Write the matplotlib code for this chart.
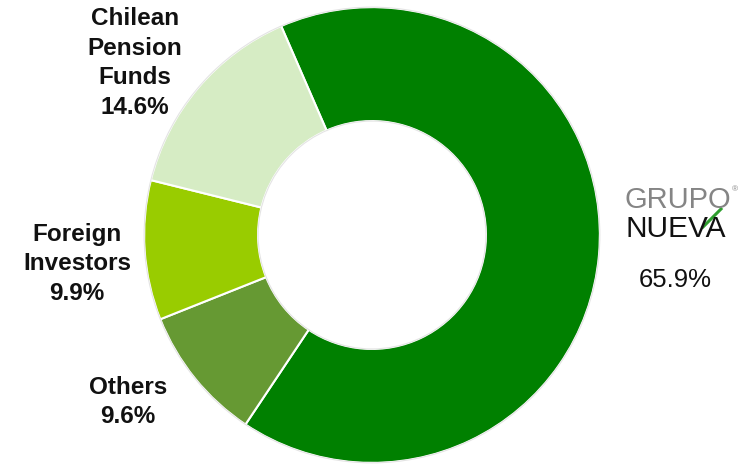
"""Shareholder structure donut chart (Grupo Nueva majority)."""

import matplotlib.pyplot as plt
from matplotlib.patches import Circle

plt.rcParams["font.family"] = ["Liberation Sans", "DejaVu Sans"]

# Clockwise from the top-left boundary
shareholders = ["Grupo Nueva", "Others", "Foreign Investors", "Chilean Pension Funds"]
shares = [65.9, 9.6, 9.9, 14.6]
label_text = ["", "Others\n9.6%", "Foreign\nInvestors\n9.9%", "Chilean\nPension\nFunds\n14.6%"]

COLORS = ["#008000", "#669933", "#99CC00", "#D6ECC4"]
W, H = 750, 467


def fx(px):
    return px / W


def fy(py):
    return 1 - py / H


fig = plt.figure(figsize=(7.5, 4.67), dpi=100)
fig.patch.set_facecolor("white")

# square axes centred on the donut (centre ~ (372, 235) px, radius ~229 px)
ax = fig.add_axes([fx(143), fy(464), 458 / W, 458 / H])
ax.pie(shares, colors=COLORS, startangle=113.5, counterclock=False,
       radius=1.0, wedgeprops=dict(width=0.5, edgecolor="white", linewidth=1.5))
ax.add_patch(Circle((0, 0), 1.0, fill=False, edgecolor="#e4e4e4", linewidth=0.8))
ax.add_patch(Circle((0, 0), 0.5, fill=False, edgecolor="#e4e4e4", linewidth=0.8))
ax.set_xlim(-1.005, 1.005)
ax.set_ylim(-1.005, 1.005)
ax.set_aspect("equal")
ax.axis("off")

label_style = dict(ha="center", va="center", fontsize=17.5, fontweight="bold",
                   color="#111111", linespacing=1.38)
fig.text(fx(135), fy(63), label_text[3], **label_style)
fig.text(fx(77), fy(264), label_text[2], **label_style)
fig.text(fx(128), fy(402), label_text[1], **label_style)

# Grupo Nueva logo + share
fig.text(fx(625), fy(208), "GRUPO", ha="left", va="baseline", fontsize=21,
         color="#858585")
fig.text(fx(732), fy(191), "\u00ae", ha="left", va="baseline", fontsize=6,
         color="#858585")
fig.text(fx(625), fy(237), "NUEVA", ha="left", va="baseline", fontsize=21.5,
         color="#111111")
fig.add_artist(plt.Line2D([fx(703), fx(721)], [fy(227), fy(209)],
                          color="#2e9e2e", linewidth=2.2))
fig.text(fx(675), fy(280), f"{shares[0]}%", ha="center", va="center",
         fontsize=18.5, color="#111111")

fig.savefig("out.png", dpi=100, facecolor="white")
